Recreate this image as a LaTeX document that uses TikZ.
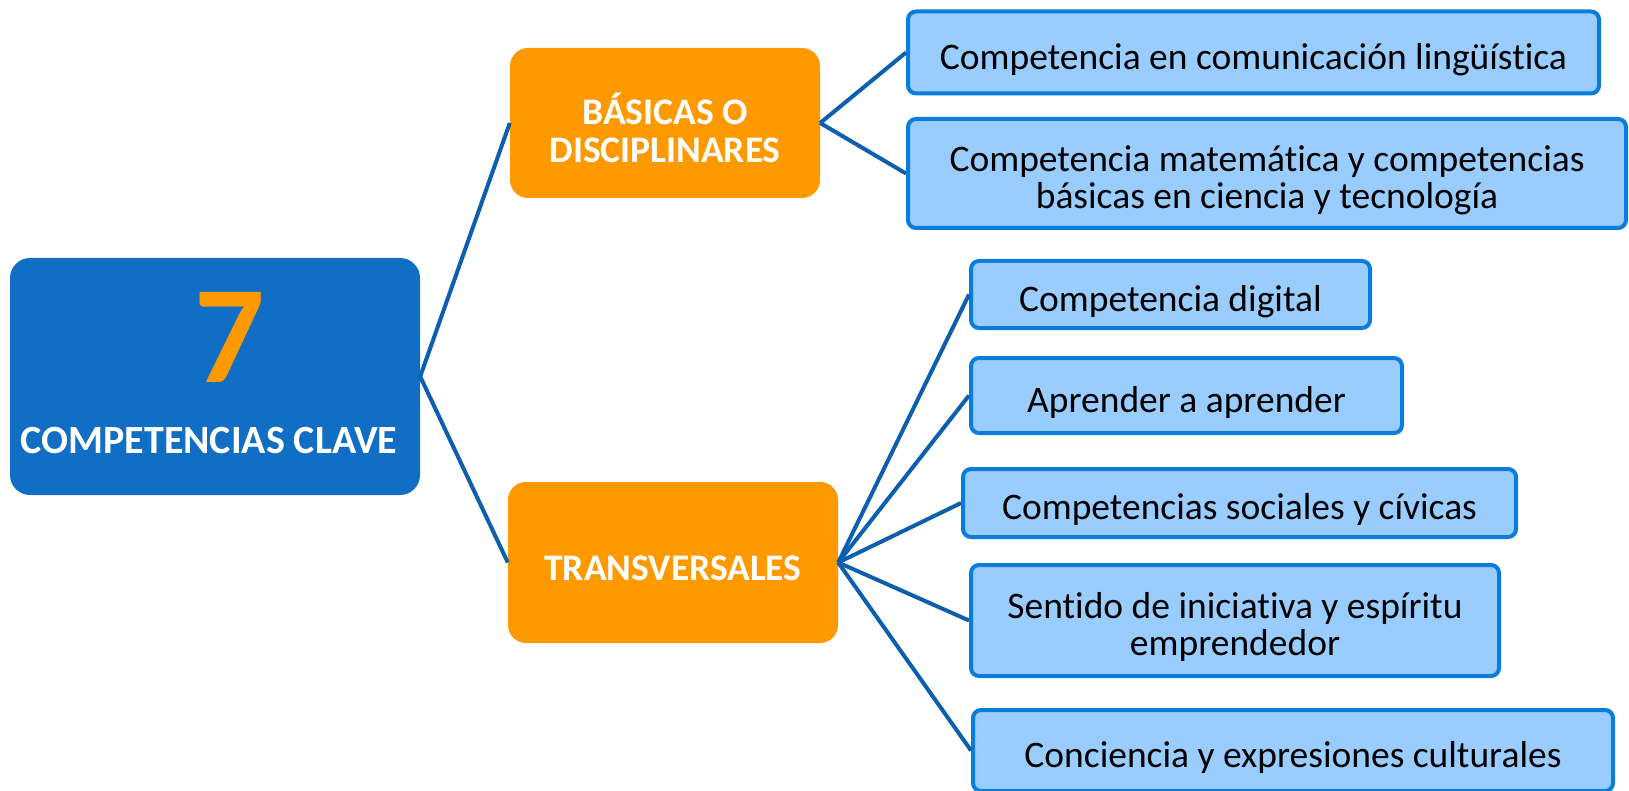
\documentclass[tikz,border=0pt]{standalone}
\usepackage{fontspec}
\setmainfont{Carlito}[Ligatures=NoCommon]
\usepackage{tikz}
\usetikzlibrary{calc}

\definecolor{claveblue}{RGB}{16,110,196}
\definecolor{claveorange}{RGB}{255,153,0}
\definecolor{leaffill}{RGB}{153,204,255}
\definecolor{leafline}{RGB}{10,125,218}
\definecolor{linkblue}{RGB}{12,94,174}
\newcommand\lift[1]{\rule{0pt}{#1pt}}

\begin{document}
\begin{tikzpicture}[x=1pt, y=-1pt,
        head/.style={rounded corners=18pt, fill=claveorange, text=white, align=center, inner sep=0pt,
                font=\fontsize{37.5}{38}\selectfont\bfseries},
        leaf/.style={rounded corners=8pt, draw=leafline, line width=4pt, fill=leaffill, align=center, inner sep=0pt,
                font=\fontsize{37.5}{37}\selectfont},
        link/.style={draw=linkblue, line width=4pt}]
        \useasboundingbox (0,0) rectangle (1629,791);
        \clip (0,0) rectangle (1629,791);
        % left block
        \node[fill=claveblue, rounded corners=20pt, minimum width=410pt, minimum height=237pt] (main) at (215,376.5) {};
        \node[anchor=base, text=claveorange, font=\fontsize{139}{139}\selectfont\bfseries] (seven) at (230,382) {7};
        \node[anchor=base, text=white, font=\fontsize{40}{40}\selectfont\bfseries] (clave) at (209,453) {COMPETENCIAS CLAVE};
        % the two groups
        \node[head, minimum width=310pt, minimum height=150pt] (basicas) at (665,123) {\lift{41}BÁSICAS O\\DISCIPLINARES};
        \node[head, minimum width=330pt, minimum height=161pt] (trans) at (673,562.5) {\lift{37}TRANSVERSALES};
        % leaves: name/x/y/width/height/text
        \foreach \name/\x/\y/\w/\h/\txt in {
                linguistica/1253.5/52.5/691/82/{Competencia en comunicación lingüística},
                matematica/1267/173.5/718/109/{Competencia matemática y competencias\\básicas en ciencia y tecnología},
                digital/1170.5/294.5/399/67/{Competencia digital},
                aprender/1186.5/395.5/431/75/{Aprender a aprender},
                sociales/1239.5/503/553/68/{Competencias sociales y cívicas},
                iniciativa/1235/620.5/528/111/{Sentido de iniciativa y espíritu\\emprendedor},
                cultural/1293/750.5/640/81/{Conciencia y expresiones culturales}}{
        \node[leaf, minimum width=\w pt, minimum height=\h pt] (\name) at (\x,\y) {\lift{40}\txt};
        }
        % connectors
        \draw[link] (basicas.west) -- (main.east) -- (trans.west);
        \foreach \leaf in {linguistica, matematica}{
        \draw[link] (basicas.east) -- (\leaf.west);
        }
        \foreach \leaf in {digital, aprender, sociales, iniciativa, cultural}{
        \draw[link] (trans.east) -- (\leaf.west);
        }
    \end{tikzpicture}
\end{document}
